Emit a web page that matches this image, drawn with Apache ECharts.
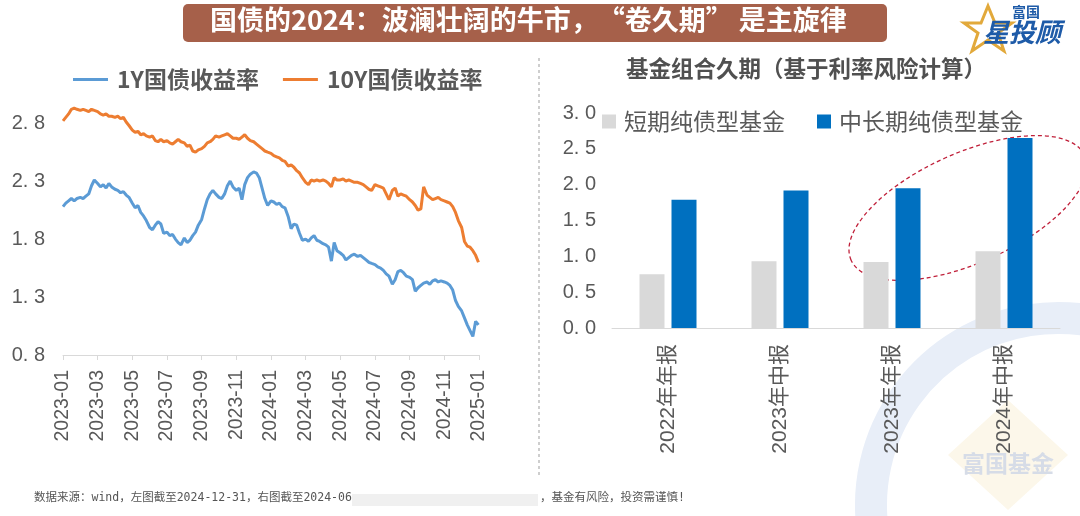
<!DOCTYPE html>
<html><head><meta charset="utf-8">
<script src="https://cdn.jsdelivr.net/npm/echarts@6/dist/echarts.min.js"></script>
<style>html,body{margin:0;padding:0;background:#fff;}#c{width:1080px;height:516px;}</style>
</head><body><div id="c"></div>
<script>
// ---------- data ----------
const months = ['2023-01','2023-02','2023-03','2023-04','2023-05','2023-06','2023-07','2023-08','2023-09','2023-10','2023-11','2023-12',
                '2024-01','2024-02','2024-03','2024-04','2024-05','2024-06','2024-07','2024-08','2024-09','2024-10','2024-11','2024-12'];
const sampleDays = ['01','06','11','16','21','26'];
const lastDate = '2024-12-31';
const y1 = [
 2.08,2.11,2.13,2.15,2.13,2.15,  2.16,2.15,2.17,2.19,2.26,2.31,  2.28,2.25,2.27,2.24,2.28,2.25,
 2.23,2.22,2.20,2.21,2.18,2.16,  2.11,2.07,2.09,2.03,2.00,1.96,  1.90,1.88,1.92,1.95,1.93,1.85,
 1.86,1.83,1.84,1.80,1.77,1.75,  1.81,1.77,1.79,1.83,1.86,1.92,  1.97,2.06,2.14,2.19,2.22,2.19,
 2.16,2.15,2.19,2.26,2.30,2.25,  2.22,2.24,2.14,2.27,2.33,2.36,  2.38,2.37,2.33,2.24,2.15,2.09,
 2.13,2.12,2.10,2.11,2.08,2.07,  1.99,1.89,1.93,1.92,1.85,1.79,  1.80,1.78,1.81,1.83,1.79,1.78,
 1.76,1.75,1.73,1.61,1.77,1.70,  1.68,1.66,1.62,1.64,1.66,1.67,  1.65,1.66,1.64,1.62,1.60,1.59,
 1.58,1.56,1.55,1.53,1.50,1.48,  1.41,1.45,1.52,1.53,1.51,1.48,  1.47,1.45,1.35,1.38,1.40,1.42,
 1.43,1.41,1.44,1.45,1.43,1.44,  1.43,1.42,1.40,1.36,1.27,1.22,  1.18,1.12,1.06,1.01,0.96,1.09,
 1.06
];
const y10 = [
 2.82,2.85,2.88,2.92,2.93,2.92,  2.91,2.92,2.91,2.90,2.92,2.91,  2.90,2.88,2.87,2.88,2.86,2.86,
 2.85,2.86,2.84,2.85,2.81,2.78,  2.74,2.72,2.73,2.70,2.71,2.69,  2.68,2.69,2.65,2.64,2.66,2.64,
 2.65,2.63,2.62,2.64,2.66,2.64,  2.63,2.60,2.61,2.56,2.55,2.57,  2.58,2.60,2.63,2.64,2.66,2.69,
 2.68,2.69,2.70,2.71,2.69,2.67,  2.67,2.66,2.68,2.70,2.67,2.65,  2.64,2.62,2.60,2.58,2.56,2.55,
 2.54,2.52,2.51,2.50,2.48,2.47,  2.43,2.44,2.42,2.39,2.37,2.33,  2.29,2.27,2.31,2.30,2.31,2.30,
 2.31,2.30,2.28,2.25,2.33,2.31,  2.31,2.32,2.30,2.31,2.30,2.29,  2.29,2.28,2.27,2.25,2.23,2.22,
 2.27,2.26,2.25,2.24,2.19,2.14,  2.22,2.24,2.17,2.19,2.18,2.17,  2.14,2.12,2.09,2.05,2.06,2.25,
 2.18,2.16,2.14,2.15,2.16,2.14,  2.13,2.12,2.11,2.08,2.03,1.96,  1.90,1.78,1.74,1.73,1.70,1.66,
 1.60
];
const lineNames = ['1Y国债收益率','10Y国债收益率'];
const barCats = ['2022年年报','2023年中报','2023年年报','2024年中报'];
const barNames = ['短期纯债型基金','中长期纯债型基金'];
const shortDur = [0.75,0.93,0.92,1.07];
const longDur = [1.79,1.92,1.95,2.65];
const leftTicks = [0.8,1.3,1.8,2.3,2.8];

// ---------- helpers ----------
const dates = months.flatMap(m => sampleDays.map(d => m + '-' + d)).concat([lastDate]);
function toMonth(s){const [y,m,d]=s.split('-').map(Number);return (y-2023)*12+(m-1)+(d-1)/31;}
function monthLabel(v){const y=2023+Math.floor(v/12);const m=Math.round(v%12)+1;return y+'-'+(m<10?'0'+m:m);}
const fmt = v => v.toFixed(1).replace('.', '. ');
const TXT = '#595959';
const CJK = '"Noto Sans CJK SC"';

const chart = echarts.init(document.getElementById('c'));
chart.setOption({
  animation:false,
  textStyle:{fontFamily:'"Liberation Sans","Noto Sans CJK SC",sans-serif'},
  graphic:[
    // watermark
    {type:'arc',z:-10,silent:true,shape:{cx:1058,cy:505,r:187,startAngle:Math.PI*0.95,endAngle:Math.PI*1.75},style:{stroke:'#e8eef8',lineWidth:32,fill:null}},
    {type:'polygon',z:-10,silent:true,shape:{points:[[1008,400],[1068,455],[1008,510],[948,455]]},style:{fill:'#fcf7ea'}},
    {type:'text',z:-9,silent:true,left:962,top:452,style:{text:'富国基金',fontSize:23,fontWeight:'bold',fill:'#d6dce7',fontFamily:CJK}},
    // banner
    {type:'rect',shape:{x:183,y:4,width:704,height:38,r:5},style:{fill:'#A6604A'}},
    {type:'text',left:210,top:6,style:{text:'国债的2024：波澜壮阔的牛市，“卷久期” 是主旋律',fontSize:27,fontWeight:'bold',fill:'#fff',fontFamily:CJK}},
    // right chart title
    {type:'text',left:626,top:57,style:{text:'基金组合久期（基于利率风险计算）',fontSize:22.5,fontWeight:'bold',fill:'#505050',fontFamily:CJK}},
    // divider
    {type:'line',shape:{x1:539,y1:58,x2:539,y2:477},style:{stroke:'#bfbfbf',lineWidth:1.5,lineDash:[3,3]}},
    // ellipse
    {type:'ellipse',x:968,y:208,rotation:0.42,shape:{cx:0,cy:0,rx:128,ry:55},style:{fill:null,stroke:'#C0203A',lineWidth:1.3,lineDash:[4,3]}},
    // logo
    {type:'polygon',shape:{points:[[988,6],[995,23],[1012,23],[998,33],[1004,51],[988,40],[972,51],[978,33],[964,23],[981,23]]},style:{fill:null,stroke:'#E2A93B',lineWidth:3}},
    {type:'text',left:1012,top:5,style:{text:'富国',fontSize:14,fontWeight:'bold',fill:'#1E5BA8',fontFamily:CJK}},
    {type:'text',left:983,top:19,style:{text:'星投顾',fontSize:26,fontWeight:'bold',fontStyle:'italic',fill:'#1E5BA8',fontFamily:CJK}},
    // footer
    {type:'text',left:34,top:492,style:{text:'数据来源：wind，左图截至2024-12-31，右图截至2024-06',fontSize:11.5,fill:'#555',fontFamily:'"DejaVu Sans Mono","Noto Sans CJK SC"'}},
    {type:'rect',shape:{x:352,y:494,width:186,height:12},style:{fill:'#f0f0f0'}},
    {type:'text',left:540,top:492,style:{text:'，基金有风险，投资需谨慎!',fontSize:11.5,fill:'#555',fontFamily:'"DejaVu Sans Mono","Noto Sans CJK SC"'}}
  ],
  legend:[
    {data:lineNames,left:68,top:63,itemWidth:35,itemHeight:3,icon:'rect',itemGap:24,
     textStyle:{fontSize:23,fontWeight:'bold',color:TXT,fontFamily:CJK,padding:[0,0,0,4]}},
    {data:barNames,left:597,top:105,itemWidth:14,itemHeight:14,icon:'rect',itemGap:32,
     textStyle:{fontSize:23,color:TXT,fontFamily:CJK,padding:[0,0,0,3]}}
  ],
  grid:[
    {left:63,right:601,top:100,bottom:161},
    {left:612,right:20,top:113,bottom:188}
  ],
  xAxis:[
    {gridIndex:0,type:'value',min:0,max:24,interval:2,splitLine:{show:false},
     axisLine:{lineStyle:{color:'#d9d9d9'}},axisTick:{show:true,length:5,lineStyle:{color:'#d9d9d9'}},
     axisLabel:{rotate:90,margin:15,fontSize:19.5,color:TXT,formatter:monthLabel}},
    {gridIndex:1,type:'category',data:barCats,
     axisLine:{lineStyle:{color:'#d9d9d9'}},axisTick:{show:false},
     axisLabel:{rotate:90,margin:16,fontSize:21,color:TXT,fontFamily:'"Liberation Sans","Noto Sans CJK SC"'}}
  ],
  yAxis:[
    {gridIndex:0,type:'value',min:0.8,max:3.0,interval:0.5,splitLine:{show:false},
     axisLine:{show:false},axisTick:{show:false},
     axisLabel:{margin:18,fontSize:20,color:TXT,formatter:v=>leftTicks.some(t=>Math.abs(t-v)<1e-6)?fmt(v):''}},
    {gridIndex:1,type:'value',min:0,max:3,interval:0.5,splitLine:{show:false},
     axisLine:{show:false},axisTick:{show:false},
     axisLabel:{margin:16,fontSize:20,color:TXT,formatter:fmt}}
  ],
  series:[
    {name:lineNames[0],type:'line',xAxisIndex:0,yAxisIndex:0,showSymbol:false,symbol:'none',
     data:dates.map((d,i)=>[toMonth(d),y1[i]]),lineStyle:{width:3,color:'#5B9BD5'},itemStyle:{color:'#5B9BD5'}},
    {name:lineNames[1],type:'line',xAxisIndex:0,yAxisIndex:0,showSymbol:false,symbol:'none',
     data:dates.map((d,i)=>[toMonth(d),y10[i]]),lineStyle:{width:3,color:'#ED7D31'},itemStyle:{color:'#ED7D31'}},
    {name:barNames[0],type:'bar',xAxisIndex:1,yAxisIndex:1,data:shortDur,barWidth:25,barGap:'28%',itemStyle:{color:'#D9D9D9'}},
    {name:barNames[1],type:'bar',xAxisIndex:1,yAxisIndex:1,data:longDur,barWidth:25,barGap:'28%',itemStyle:{color:'#0070C0'}}
  ]
});
</script></body></html>
